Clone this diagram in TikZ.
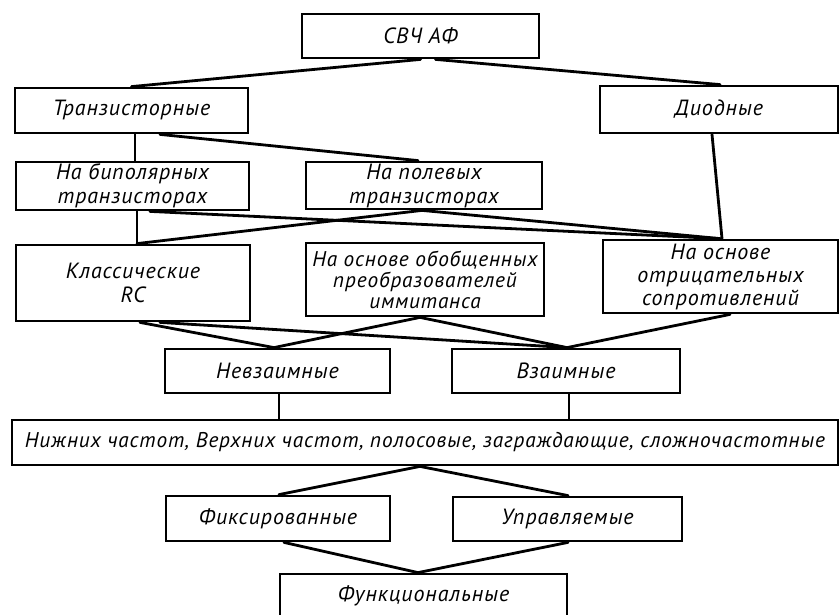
\documentclass[tikz,border=0pt]{standalone}
\usepackage{fontspec}
\setmainfont{PT Sans}[LetterSpace=4]
\begin{document}
\begin{tikzpicture}[x=1pt,y=-1pt,
  box/.style={draw, line width=2.8pt, inner sep=0pt, align=center,
    font=\fontsize{22}{24}\selectfont\itshape},
  conn/.style={line width=2.8pt, line cap=round}]
\useasboundingbox (0,0) rectangle (840,615);
\node[box, minimum width=237pt, minimum height=44pt] (svch) at (420.5,36) {СВЧ АФ};
\node[box, minimum width=233pt, minimum height=45pt] (tranz) at (131.5,110.5) {Транзисторные};
\node[box, minimum width=238pt, minimum height=47pt] (diod) at (719,109.5) {Диодные};
\node[box, minimum width=233pt, minimum height=48pt] (bipol) at (132.5,186) {На биполярных\\транзисторах};
\node[box, minimum width=236pt, minimum height=47pt] (polev) at (424,185.5) {На полевых\\транзисторах};
\node[box, minimum width=234pt, minimum height=76pt] (klass) at (133,283) {Классические\\RC};
\node[box, minimum width=238pt, minimum height=73pt, font=\fontsize{21.3}{21}\selectfont\itshape] (obob) at (425,279.5) {На основе обобщенных\\преобразователей\\иммитанса};
\node[box, minimum width=235pt, minimum height=73pt, font=\fontsize{22}{23}\selectfont\itshape] (otric) at (720.5,276.5) {На основе\\отрицательных\\сопротивлений};
\node[box, minimum width=225pt, minimum height=44pt] (nevz) at (277.5,371) {Невзаимные};
\node[box, minimum width=228pt, minimum height=44pt] (vzaim) at (566,371) {Взаимные};
\node[box, minimum width=826pt, minimum height=45pt, font=\fontsize{21.3}{24}\selectfont\itshape] (wide) at (425,442.5) {Нижних частот, Верхних частот, полосовые, заграждающие, сложночастотные};
\node[box, minimum width=224pt, minimum height=45pt] (fiks) at (278,518.5) {Фиксированные};
\node[box, minimum width=229pt, minimum height=44pt] (uprav) at (567.5,519) {Управляемые};
\node[box, minimum width=287pt, minimum height=44pt] (funk) at (423.5,596) {Функциональные};

\draw[conn] (svch.south) -- (tranz.north);
\draw[conn] ([xshift=15pt]svch.south) -- ([xshift=1pt]diod.north);
\draw[conn] ([xshift=3.5pt]tranz.south) -- ([xshift=2.5pt]bipol.north);
\draw[conn] ([xshift=28.5pt]tranz.south) -- ([xshift=-6pt]polev.north);
\draw[conn] ([xshift=-7pt]diod.south) -- ([xshift=1.5pt]otric.north);
\draw[conn] ([xshift=4.5pt]bipol.south) -- ([xshift=4pt]klass.north);
\draw[conn] ([xshift=17.5pt]bipol.south) -- ([xshift=-0.5pt]otric.north);
\draw[conn] ([xshift=-2pt]polev.south) -- ([xshift=4pt]klass.north);
\draw[conn] ([xshift=-2pt]polev.south) -- ([xshift=-0.5pt]otric.north);
\draw[conn] ([xshift=7pt]klass.south) -- ([xshift=-3.5pt]nevz.north);
\draw[conn] ([xshift=27pt]klass.south) -- ([xshift=1pt]vzaim.north);
\draw[conn] ([xshift=-5pt]obob.south) -- ([xshift=-3.5pt]nevz.north);
\draw[conn] ([xshift=-5pt]obob.south) -- ([xshift=1pt]vzaim.north);
\draw[conn] ([xshift=9.5pt]otric.south) -- ([xshift=1pt]vzaim.north);
\draw[conn] ([xshift=1.5pt]nevz.south) -- ([xshift=-146pt]wide.north);
\draw[conn] ([xshift=3pt]vzaim.south) -- ([xshift=144pt]wide.north);
\draw[conn] ([xshift=-5pt]wide.south) -- ([xshift=1pt]fiks.north);
\draw[conn] ([xshift=-5pt]wide.south) -- ([xshift=0.5pt]uprav.north);
\draw[conn] ([xshift=6pt]fiks.south) -- ([xshift=-5.5pt]funk.north);
\draw[conn] ([xshift=0.5pt]uprav.south) -- ([xshift=-5.5pt]funk.north);
\end{tikzpicture}
\end{document}
